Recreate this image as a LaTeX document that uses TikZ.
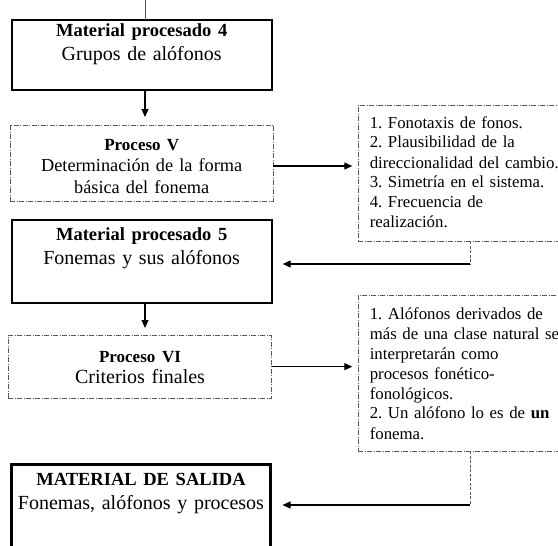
\documentclass[tikz,border=0pt]{standalone}
\usepackage{fontspec}
\setmainfont{Liberation Serif}
\frenchspacing
\usetikzlibrary{arrows.meta}
\begin{document}
\begin{tikzpicture}[x=1pt,y=-1pt,
                    caja/.style={draw, line width=2pt, align=center, inner sep=0pt, outer sep=0pt, anchor=north,
                                 font=\fontsize{20}{24}\selectfont},
                    proceso/.style={caja, draw=black!65, line width=0.8pt,
                                    dash pattern=on 5pt off 1.5pt on 1pt off 1.5pt},
                    nota/.style={proceso, align=left, anchor=north west, inner xsep=11.5pt, text width=196pt,
                                 font=\fontsize{16.8}{20}\selectfont},
                    flecha/.style={-{Triangle[length=8pt,width=7pt]}, line width=1.2pt},
                    guia/.style={draw=black!65, line width=0.8pt, dash pattern=on 3pt off 1.5pt}]
\useasboundingbox (0,0) rectangle (558,546);
\coordinate (eje) at (145,0);
\coordinate (codo1) at (470,264);
\coordinate (codo2) at (470,505);

% left column
\node[caja, text width=260pt, text height=17pt, text depth=53pt] (mp4) at (141.7,20)
    {{\fontsize{18.5}{22}\selectfont\bfseries Material procesado 4}\\ Grupos de alófonos};
\node[proceso, text width=263.3pt, text height=25pt, text depth=51pt,
      font=\fontsize{18.3}{21.5}\selectfont] (pv) at (141.7,125)
    {{\fontsize{17}{20}\selectfont\bfseries Proceso V}\\ Determinación de la forma\\ básica del fonema};
\node[caja, text width=260pt, text height=20pt, text depth=63.3pt] (mp5) at (141.7,220)
    {{\fontsize{18.5}{22}\selectfont\bfseries Material procesado 5}\\ Fonemas y sus alófonos};
\node[proceso, text width=263.3pt, text height=27pt, text depth=36.3pt,
      font=\fontsize{20}{21.5}\selectfont] (pvi) at (140,335)
    {{\fontsize{17}{20}\selectfont\bfseries Proceso VI}\\ Criterios finales};
\node[caja, line width=3.5pt, text width=259pt, text height=20.3pt, text depth=63pt] (salida) at (141,464.7)
    {{\fontsize{18.5}{22}\selectfont\bfseries MATERIAL DE SALIDA}\\ Fonemas, alófonos y procesos};

% right column
\node[nota, text height=23pt, text depth=113pt] (nota1) at (358.3,105)
    {1. Fonotaxis de fonos.\\ 2. Plausibilidad de la\\ direccionalidad del cambio.\\
     3. Simetría en el sistema.\\ 4. Frecuencia de\\ realización.};
\node[nota, text height=24pt, text depth=132pt] (nota2) at (358.3,295)
    {1. Alófonos derivados de\\ más de una clase natural se\\ interpretarán como\\
     procesos fonético-\\ fonológicos.\\ 2. Un alófono lo es de \textbf{un}\\ fonema.};

\draw[draw=black!65, line width=1pt] (eje) -- (eje |- mp4.north);
\draw[flecha, shorten >=8pt] (eje |- mp4.south) -- (eje |- pv.north);
\draw[flecha, shorten >=6pt] ([yshift=-3pt]pv.east) -- ([yshift=-3pt]pv.east -| nota1.west);
\draw[guia] (codo1 |- nota1.south) -- (codo1);
\draw[flecha, shorten >=11pt] (codo1) -- (codo1 -| mp5.east);
\draw[flecha, shorten >=7pt] (eje |- mp5.south) -- (eje |- pvi.north);
\draw[flecha, shorten >=6pt] (pvi.east) -- (pvi.east -| nota2.west);
\draw[guia] (codo2 |- nota2.south) -- (codo2);
\draw[flecha, shorten >=12pt] (codo2) -- (codo2 -| salida.east);
\end{tikzpicture}
\end{document}
